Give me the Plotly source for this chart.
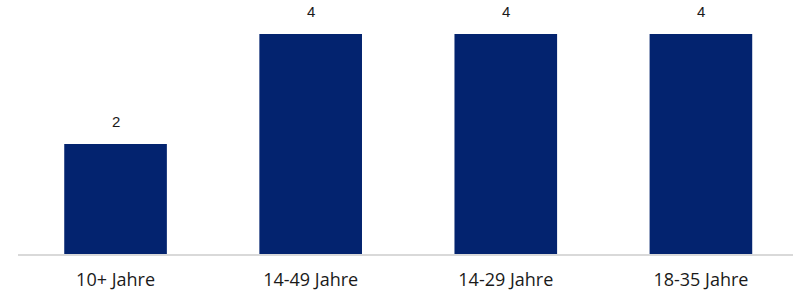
import plotly.graph_objects as go

categories = ["10+ Jahre", "14-49 Jahre", "14-29 Jahre", "18-35 Jahre"]
values = [2, 4, 4, 4]
value_labels = ["2", "4", "4", "4"]

fig = go.Figure()
fig.add_trace(go.Bar(
    x=list(range(len(categories))), y=values,
    marker=dict(color="#03236F", line=dict(width=0)),
    hoverinfo="skip",
))
for i, (v, t) in enumerate(zip(values, value_labels)):
    fig.add_annotation(x=i, y=v, text=t, showarrow=False, yanchor="bottom",
                       yshift=12, font=dict(family="Liberation Sans, Arial", size=15, color="#1a1a1a"))

fig.update_layout(
    width=793, height=292,
    margin=dict(l=18, r=0, t=12, b=38),
    paper_bgcolor="white", plot_bgcolor="white",
    bargap=0.474, showlegend=False,
    xaxis=dict(range=[-0.5, 3.472], tickmode="array", tickvals=list(range(len(categories))),
               ticktext=categories, showgrid=False, zeroline=False, showline=True,
               linecolor="#d9d9d9", linewidth=1.5, ticks="", ticklabelstandoff=9,
               tickfont=dict(family="Open Sans", size=18, color="#1a1a1a")),
    yaxis=dict(range=[0, 4.4], visible=False, showgrid=False, zeroline=False),
)
fig.write_html("out.html", config={"displayModeBar": False},
               post_script="document.body.style.margin='0';document.body.style.overflow='hidden';")
